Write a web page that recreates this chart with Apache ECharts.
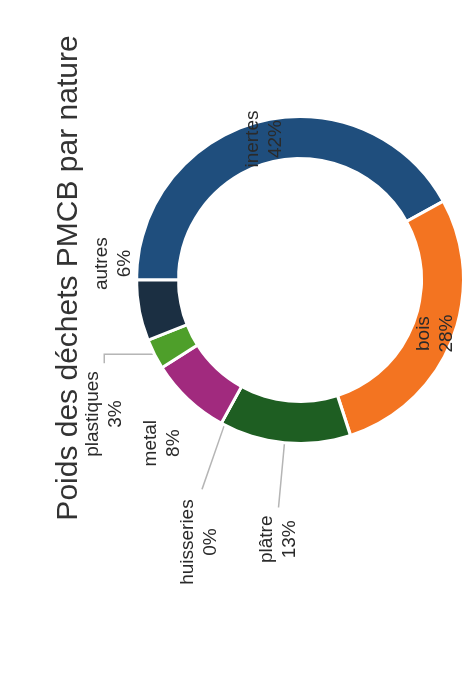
<!DOCTYPE html>
<html>
<head>
<meta charset="utf-8">
<script src="https://cdn.jsdelivr.net/npm/echarts@6/dist/echarts.min.js"></script>
<style>
  html, body { margin: 0; padding: 0; background: #fff; overflow: hidden; width: 470px; height: 674px; }
  /* The chart is laid out landscape and turned a quarter turn counter-clockwise */
  #chart {
    position: absolute; left: 0; top: 0;
    width: 674px; height: 470px;
    transform-origin: 0 0;
    transform: translate(0, 674px) rotate(-90deg);
  }
</style>
</head>
<body>
<div id="chart"></div>
<script>
const titleText = 'Poids des déchets PMCB par nature';
const categories = ['inertes', 'bois', 'plâtre', 'huisseries', 'metal', 'plastiques', 'autres'];
const shares = [42, 28, 13, 0, 8, 3, 6];
const colors = ['#1F4E7D', '#F37421', '#1E5E22', '#8C8C8C', '#A12A7E', '#4E9F2A', '#1B2F42'];

const FONT = '"Liberation Sans", Arial, sans-serif';
const CENTER = [394, 300];
const RADII = [121.5, 163.5];
const MID_RADIUS = (RADII[0] + RADII[1]) / 2;

// Label placement per slice: leader line lengths and nudge of the text from the line end
const placement = {
  'inertes':    { inside: true },
  'bois':       { inside: true },
  'plâtre':     { len: 65, len2: 0, align: 'right', dx: -8, dy: 0 },
  'huisseries': { len: 40, len2: 31, straight: true, align: 'right', dx: -10, dy: -3 },
  'metal':      { len: 0, len2: 0, hideLine: true, align: 'center', dx: -44, dy: -26 },
  'plastiques': { len: 50, len2: 9, elbow: true, align: 'right', dx: -8, dy: 0 },
  'autres':     { len: 0, len2: 0, hideLine: true, align: 'center', dx: 47, dy: -26 }
};

const seriesData = categories.map((name, i) => {
  const cfg = placement[name];
  const item = { name: name, value: shares[i], itemStyle: { color: colors[i] } };
  if (cfg.inside) {
    item.label = { position: 'inside' };
    item.labelLine = { show: false };
  } else {
    item.label = { position: 'outside' };
    item.labelLine = {
      show: true, length: cfg.len, length2: cfg.len2,
      lineStyle: { opacity: cfg.hideLine ? 0 : 1 }
    };
  }
  return item;
});

// Pull the start of a leader line back from the outer edge to the middle of the ring
function ringStart(p0) {
  const vx = p0[0] - CENTER[0], vy = p0[1] - CENTER[1];
  const d = Math.sqrt(vx * vx + vy * vy) || 1;
  return [CENTER[0] + vx / d * MID_RADIUS, CENTER[1] + vy / d * MID_RADIUS];
}

const chart = echarts.init(document.getElementById('chart'), null, { renderer: 'canvas' });
chart.setOption({
  backgroundColor: '#ffffff',
  animation: false,
  title: {
    text: titleText,
    left: 391,
    top: 49,
    textAlign: 'center',
    textStyle: { fontFamily: FONT, fontSize: 30, fontWeight: 'normal', color: '#333' }
  },
  series: [{
    type: 'pie',
    center: CENTER,
    radius: RADII,
    startAngle: 90,
    clockwise: true,
    avoidLabelOverlap: false,
    minShowLabelAngle: 0,
    itemStyle: { borderColor: '#ffffff', borderWidth: 3 },
    label: {
      formatter: '{n|{b}}\n{n|{c}%}',
      color: '#2a2a2a',
      fontFamily: FONT,
      distanceToLabelLine: 8,
      rich: {
        n: { align: 'center', fontFamily: FONT, fontSize: 19, lineHeight: 23, color: '#2a2a2a' }
      }
    },
    labelLine: { showAbove: true, lineStyle: { color: '#b5b5b5', width: 1.5 } },
    labelLayout: function (p) {
      const cfg = placement[categories[p.dataIndex]];
      if (!cfg || cfg.inside || !p.labelLinePoints) return {};
      const pts = p.labelLinePoints;
      const p0 = [pts[0][0], pts[0][1]];
      let line;
      if (cfg.elbow) {
        const p1 = [p0[0], p0[1] - cfg.len];
        line = [ringStart(p0), p0, p1, [p1[0] - cfg.len2, p1[1]]];
      } else if (cfg.straight) {
        const last = pts[pts.length - 1];
        line = [ringStart(p0), [last[0], last[1]]];
      } else {
        line = [ringStart(p0)].concat(pts.map(q => [q[0], q[1]]));
      }
      const end = line[line.length - 1];
      return {
        x: end[0] + cfg.dx,
        y: end[1] + cfg.dy,
        align: cfg.align,
        verticalAlign: 'middle',
        labelLinePoints: line
      };
    },
    data: seriesData
  }]
});
</script>
</body>
</html>
